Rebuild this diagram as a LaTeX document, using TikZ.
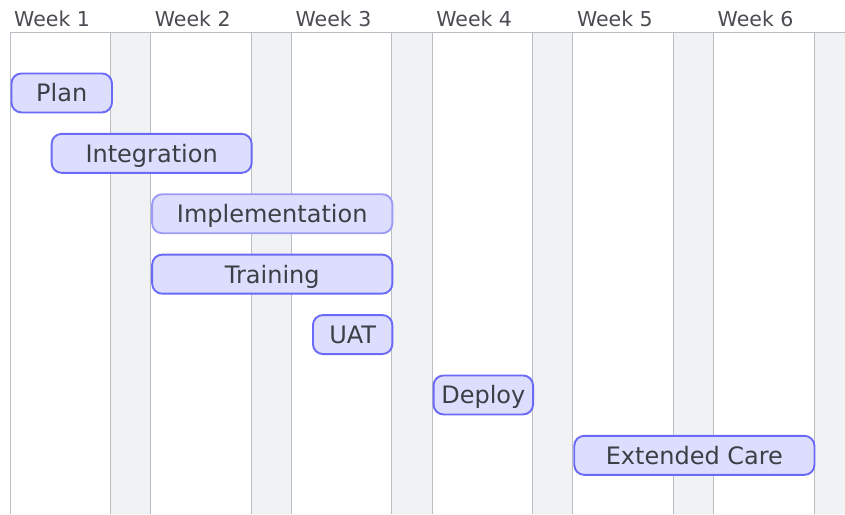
\documentclass[tikz,border=0pt]{standalone}
\usepackage{fontspec}
\setmainfont{DejaVu Sans}
\definecolor{wkend}{HTML}{F1F2F4}
\definecolor{gridc}{HTML}{B9BDC4}
\definecolor{barfill}{HTML}{DDDDFD}
\definecolor{barline}{HTML}{6A6AF6}
\definecolor{barlight}{HTML}{9C9CF8}
\definecolor{txt}{HTML}{3D3F46}
\definecolor{hdr}{HTML}{4A4C52}
\tikzset{
  bar/.style={draw=barline, fill=barfill, line width=1.9pt, rounded corners=10pt,
    text=txt, font=\fontsize{24}{28}\selectfont, inner sep=0pt,
    text height=18pt, text depth=0pt,
    minimum height=39pt, anchor=north west},
  weeklbl/.style={text=hdr, font=\fontsize{20.5}{24}\selectfont, inner sep=0pt, anchor=base west},
  gridline/.style={draw=gridc, line width=1pt}
}
\begin{document}
\begin{tikzpicture}[x=1pt,y=-1pt]
\useasboundingbox (0,0) rectangle (845,514);
\fill[white] (0,0) rectangle (845,514);
\begin{scope}
\clip (0,0) rectangle (845,514);
\foreach \w in {0,...,5}{
  \pgfmathsetmacro{\xa}{10+140.7*\w+100.5}
  \pgfmathsetmacro{\xb}{10+140.7*(\w+1)}
  \fill[wkend] (\xa,32) rectangle (\xb,514);
  \draw[gridline] (\xa,32) -- (\xa,514);
  \draw[gridline] (\xb,32) -- (\xb,514);
}
\end{scope}
\draw[gridline] (10,32) -- (10,514);
\draw[gridline] (10,32) -- (845,32);
\foreach \w/\lab in {0/Week 1,1/Week 2,2/Week 3,3/Week 4,4/Week 5,5/Week 6}{
  \pgfmathsetmacro{\xl}{14+140.7*\w}
  \node[weeklbl] (wk\w) at (\xl,26) {\lab};
}
\node[bar, minimum width=100.5pt] (plan) at (10.5,72.5) {Plan};
\node[bar, minimum width=200pt] (integ) at (50.7,132.9) {Integration};
\node[bar, draw=barlight, minimum width=240.2pt] (impl) at (151.2,193.3) {Implementation};
\node[bar, minimum width=240.2pt] (train) at (151.2,253.7) {Training};
\node[bar, minimum width=79.4pt] (uat) at (312,314.1) {UAT};
\node[bar, minimum width=99.5pt] (deploy) at (432.6,374.5) {Deploy};
\node[bar, minimum width=240.2pt] (care) at (573.3,434.9) {Extended Care};
\end{tikzpicture}
\end{document}
